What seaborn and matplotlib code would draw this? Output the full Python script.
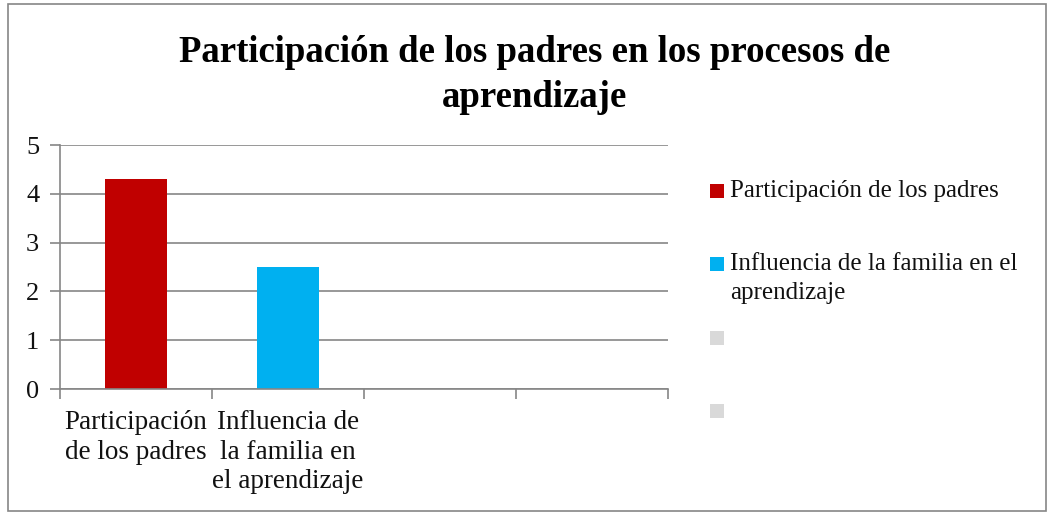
import matplotlib
matplotlib.use("Agg")
import matplotlib.pyplot as plt
from matplotlib.patches import Rectangle
import seaborn as sns
import pandas as pd
import numpy as np

categories = ["Participación\nde los padres", "Influencia de\nla familia en\nel aprendizaje", "", " "]
values = [4.3, 2.5, np.nan, np.nan]
legend_labels = ["Participación de los padres", "Influencia de la familia en el\naprendizaje", "", ""]
colors = ["#C00000", "#00B0F0", "#D9D9D9", "#D9D9D9"]
title = "Participación de los padres en los procesos de\naprendizaje"
yticks = [0, 1, 2, 3, 4, 5]

sns.set_theme(style="white")
plt.rcParams["font.family"] = ["Liberation Serif", "DejaVu Serif"]

W, H = 1052, 516
fig = plt.figure(figsize=(W / 100, H / 100), dpi=100)
fig.patch.set_facecolor("white")
ax = fig.add_axes([60 / W, 1 - 389 / H, (668 - 60) / W, (389 - 145) / H])

df = pd.DataFrame({"cat": categories, "val": values})
sns.barplot(data=df, x="cat", y="val", hue="cat", palette=colors, dodge=False,
            width=0.41, legend=False, ax=ax, order=categories, hue_order=categories,
            saturation=1, linewidth=0, edgecolor="none")

gridc = "#868686"
ax.set_ylim(0, 5)
ax.set_xlim(-0.5, len(categories) - 0.5)
ax.set_yticks(yticks)
ax.set_yticklabels([str(t) for t in yticks], fontsize=19)
ax.yaxis.grid(True, color=gridc, linewidth=1.2)
ax.set_axisbelow(True)
ax.set_xlabel("")
ax.set_ylabel("")

# category boundaries as major ticks, labels on minor ticks
ax.set_xticks(np.arange(-0.5, len(categories), 1.0))
ax.set_xticklabels([])
ax.set_xticks(np.arange(len(categories)), minor=True)
ax.set_xticklabels(categories, minor=True, fontsize=19.5, linespacing=1.25, va="top")
ax.tick_params(axis="x", which="major", direction="out", length=7, color=gridc, width=1.2, bottom=True)
ax.tick_params(axis="x", which="minor", length=0, pad=15, colors="#111111")
ax.tick_params(axis="y", direction="out", length=7, color=gridc, width=1.2, left=True, pad=8, colors="#111111")
for t in ax.get_yticklabels():
    t.set_color("#111111")

for s in ["top", "right"]:
    ax.spines[s].set_visible(False)
for s in ["left", "bottom"]:
    ax.spines[s].set_color(gridc)
    ax.spines[s].set_linewidth(1.2)

fig.text(535 / W, 1 - 75 / H, title, ha="center", va="center", fontsize=26.5,
         fontweight="bold", linespacing=1.35, color="#000000")

# legend
for i, (lab, col) in enumerate(zip(legend_labels, colors)):
    yc = 191 + i * 73.3
    fig.add_artist(Rectangle((710 / W, 1 - (yc + 7) / H), 14 / W, 14 / H,
                             transform=fig.transFigure, facecolor=col, edgecolor="none"))
    fig.text(730 / W, 1 - (yc - 11) / H, lab, ha="left", va="top", fontsize=18,
             linespacing=1.4, color="#111111")

fig.add_artist(Rectangle((8 / W, 1 - 511 / H), (1046 - 8) / W, (511 - 4) / H,
                         transform=fig.transFigure, facecolor="none", edgecolor="#868686",
                         linewidth=1.2))

fig.savefig("out.png", dpi=100)
